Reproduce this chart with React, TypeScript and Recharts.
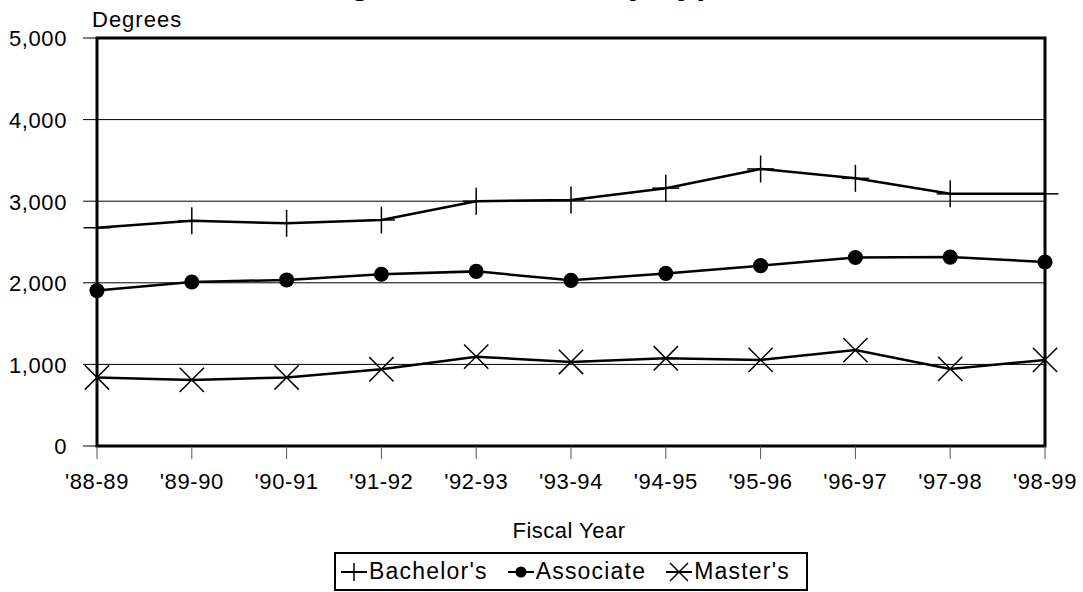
import { LineChart, Line, XAxis, YAxis, CartesianGrid, ReferenceArea } from 'recharts'

const FONT = '"Liberation Sans", Arial, Helvetica, sans-serif'

const years = ["'88-89", "'89-90", "'90-91", "'91-92", "'92-93", "'93-94", "'94-95", "'95-96", "'96-97", "'97-98", "'98-99"]
const bachelors = [2675, 2760, 2730, 2770, 3000, 3015, 3160, 3395, 3280, 3090, 3090]
const associate = [1905, 2010, 2035, 2105, 2140, 2030, 2115, 2210, 2310, 2315, 2255]
const masters = [840, 810, 840, 940, 1095, 1030, 1075, 1055, 1175, 945, 1055]
const yTicks = [0, 1000, 2000, 3000, 4000, 5000]

const SERIES = [
  { key: 'bachelors', name: "Bachelor's", marker: 'plus' },
  { key: 'associate', name: 'Associate', marker: 'dot' },
  { key: 'masters', name: "Master's", marker: 'cross' },
]

const data = years.map((year, i) => ({
  year,
  bachelors: bachelors[i],
  associate: associate[i],
  masters: masters[i],
}))

function Marker({ cx, cy, type, size }: { cx: number; cy: number; type: string; size: number }) {
  if (type === 'dot') return <circle cx={cx} cy={cy} r={size * 0.56} fill="#000" />
  if (type === 'plus')
    return (
      <g stroke="#000" strokeWidth={1.5}>
        <line x1={cx - size} y1={cy} x2={cx + size} y2={cy} />
        <line x1={cx} y1={cy - size} x2={cx} y2={cy + size} />
      </g>
    )
  const d = size * 0.9
  return (
    <g stroke="#000" strokeWidth={1.5}>
      <line x1={cx - d} y1={cy - d} x2={cx + d} y2={cy + d} />
      <line x1={cx - d} y1={cy + d} x2={cx + d} y2={cy - d} />
    </g>
  )
}

const makeDot = (type: string) => (props: any) => (
  <Marker key={`${type}-${props.index}`} cx={props.cx} cy={props.cy} type={type} size={13.5} />
)

const YTick = ({ x, y, payload }: any) => (
  <text x={x} y={y} dy="0.38em" textAnchor="end" fontSize={22} fontFamily={FONT} fill="#000" letterSpacing={0.6}>
    {Number(payload.value).toLocaleString('en-US')}
  </text>
)

const XTick = ({ x, y, payload }: any) => (
  <text x={x} y={y} dy="0.71em" textAnchor="middle" fontSize={22} fontFamily={FONT} fill="#000" letterSpacing={0.6}>
    {payload.value}
  </text>
)

function LegendBox() {
  return (
    <div
      style={{
        position: 'absolute',
        left: 334,
        top: 552,
        width: 474,
        height: 39,
        boxSizing: 'border-box',
        border: '2px solid #000',
        display: 'flex',
        alignItems: 'center',
        paddingLeft: 5,
        gap: 20,
        fontFamily: FONT,
        fontSize: 23,
        letterSpacing: 1.2,
        color: '#000',
        background: '#fff',
      }}
    >
      {SERIES.map((s) => (
        <div key={s.key} style={{ display: 'flex', alignItems: 'center', gap: 2 }}>
          <svg width={26} height={24}>
            <line x1={0} y1={12} x2={26} y2={12} stroke="#000" strokeWidth={2} />
            <Marker cx={13} cy={12} type={s.marker} size={s.marker === 'plus' ? 9 : 10} />
          </svg>
          <span>{s.name}</span>
        </div>
      ))}
    </div>
  )
}

export default function App() {
  return (
    <div style={{ position: 'absolute', left: 0, top: 0, width: 1083, height: 592, background: '#fff', overflow: 'hidden' }}>
      <LineChart width={1083} height={592} data={data} margin={{ top: 38, right: 38, bottom: 0, left: 0 }}>
        <CartesianGrid vertical={false} stroke="#000" strokeWidth={1} />
        <XAxis
          dataKey="year"
          height={146}
          axisLine={false}
          tickSize={13}
          tickMargin={14}
          tickLine={{ stroke: '#555' }}
          tick={<XTick />}
          interval={0}
        />
        <YAxis
          width={97}
          domain={[0, 5000]}
          ticks={yTicks}
          axisLine={false}
          tickSize={14}
          tickMargin={16}
          tickLine={{ stroke: '#000' }}
          tick={<YTick />}
        />
        <ReferenceArea
          x1={years[0]}
          x2={years[years.length - 1]}
          y1={0}
          y2={5000}
          fill="none"
          fillOpacity={0}
          stroke="#000"
          strokeWidth={3}
          strokeOpacity={1}
        />
        {SERIES.map((s) => (
          <Line
            key={s.key}
            type="linear"
            dataKey={s.key}
            name={s.name}
            stroke="#000"
            strokeWidth={2.5}
            dot={makeDot(s.marker)}
            activeDot={false}
            isAnimationActive={false}
          />
        ))}
      </LineChart>
      <svg width={1083} height={592} style={{ position: 'absolute', left: 0, top: 0, pointerEvents: 'none' }}>
        <text x={306} y={-6} fontSize={32} fontWeight="bold" fontFamily={FONT} letterSpacing={1.5} fill="#000">
          Degrees Awarded by Type
        </text>
        <text x={92} y={27} fontSize={22} fontFamily={FONT} letterSpacing={1} fill="#000">
          Degrees
        </text>
        <text x={569} y={538} fontSize={22} fontFamily={FONT} letterSpacing={0.5} textAnchor="middle" fill="#000">
          Fiscal Year
        </text>
      </svg>
      <LegendBox />
    </div>
  )
}
